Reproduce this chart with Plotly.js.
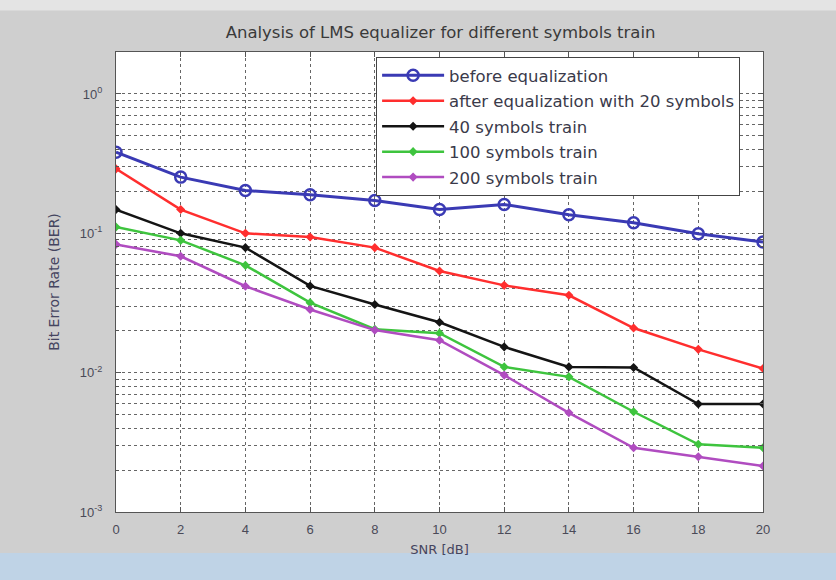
<!DOCTYPE html>
<html>
<head>
<meta charset="utf-8">
<script src="https://cdn.plot.ly/plotly-3.0.1.min.js"></script>
<style>html,body{margin:0;padding:0;background:#cfcfcf;}#chart{width:836px;height:580px;}</style>
</head>
<body>
<div id="chart"></div>
<script>
// SNR values (dB)
var snr = [0, 2, 4, 6, 8, 10, 12, 14, 16, 18, 20];
// BER series
var berBefore = [0.382, 0.253, 0.203, 0.189, 0.172, 0.148, 0.161, 0.136, 0.119, 0.0993, 0.0865];
var ber20 = [0.290, 0.148, 0.100, 0.094, 0.0789, 0.0536, 0.0423, 0.0359, 0.0209, 0.0147, 0.0107];
var ber40 = [0.148, 0.100, 0.0789, 0.0419, 0.0308, 0.0230, 0.0153, 0.0110, 0.0109, 0.00595, 0.00595];
var ber100 = [0.111, 0.0890, 0.0589, 0.0318, 0.0205, 0.0192, 0.0110, 0.00933, 0.00524, 0.00306, 0.00289];
var ber200 = [0.0833, 0.0684, 0.0417, 0.0284, 0.0202, 0.0171, 0.0096, 0.00515, 0.00289, 0.00249, 0.00214];
var seriesNames = ["before equalization", "after equalization with 20 symbols", "40 symbols train", "100 symbols train", "200 symbols train"];
var xTicks = [0, 2, 4, 6, 8, 10, 12, 14, 16, 18, 20];
var decades = [-3, -2, -1, 0];

// major y ticks at decades, minor 2..9 for the log grid
var yTickVals = [], yTickText = [], yMinorVals = [];
decades.forEach(function (d) {
  yTickVals.push(Math.pow(10, d));
  yTickText.push("10<sup>" + d + "</sup>");
  if (d < 0) {
    for (var m = 2; m <= 9; m++) yMinorVals.push(m * Math.pow(10, d));
  }
});

var colors = ["#3a3ab4", "#ff2e2e", "#141414", "#3ec43e", "#b04cc0"];
var data = [berBefore, ber20, ber40, ber100, ber200];
var traces = data.map(function (ys, i) {
  return {
    x: snr, y: ys, name: seriesNames[i], type: "scatter", mode: "lines+markers",
    legendgroup: "g" + i,
    line: {color: colors[i], width: i === 0 ? 3 : 2.5},
    marker: i === 0
      ? {symbol: "circle-open", size: 11, color: colors[i], line: {width: 2.5, color: colors[i]}}
      : {symbol: "diamond", size: 7, color: colors[i]}
  };
});

var tickFont = {family: "Arial, Liberation Sans, sans-serif", size: 13, color: "#4a4a58"};
var titleFontAx = {family: "DejaVu Sans, sans-serif", size: 13, color: "#454560"};
var layout = {
  width: 836, height: 580,
  paper_bgcolor: "#cfcfcf",
  plot_bgcolor: "#ffffff",
  margin: {l: 116, r: 73, t: 52, b: 68},
  title: {
    text: "Analysis of LMS equalizer for different symbols train",
    font: {family: "DejaVu Sans, sans-serif", size: 16.5, color: "#3a3a3a"},
    x: 0.527, xanchor: "center", yref: "container", y: 0.945, yanchor: "middle"
  },
  xaxis: {
    range: [0, 20], tickvals: xTicks, ticks: "inside", ticklen: 5, tickcolor: "#555",
    showline: true, linecolor: "#555", linewidth: 1, mirror: "ticks",
    showgrid: true, gridcolor: "#666", griddash: "dot", gridwidth: 1, zeroline: false,
    tickfont: tickFont, ticklabelstandoff: 5,
    title: {text: "SNR [dB]", font: titleFontAx, standoff: 9}
  },
  yaxis: {
    type: "log", range: [-3, Math.log10(2)],
    tickvals: yTickVals, ticktext: yTickText, ticks: "inside", ticklen: 5, tickcolor: "#555",
    showline: true, linecolor: "#555", linewidth: 1, mirror: "ticks",
    showgrid: true, gridcolor: "#666", griddash: "dot", gridwidth: 1, zeroline: false,
    minor: {tickvals: yMinorVals, ticks: "inside", ticklen: 3, tickcolor: "#555",
            showgrid: true, gridcolor: "#666", griddash: "dot", gridwidth: 1},
    tickfont: tickFont, ticklabelstandoff: 10,
    title: {text: "Bit Error Rate (BER)", font: {family: "DejaVu Sans, sans-serif", size: 14, color: "#454560"}, standoff: 16}
  },
  showlegend: true,
  legend: {
    x: 0.402, xanchor: "left", y: 0.989, yanchor: "top",
    bgcolor: "#ffffff", bordercolor: "#444", borderwidth: 1,
    font: {family: "DejaVu Sans, sans-serif", size: 16.5, color: "#3a3a4a"},
    tracegroupgap: 1, itemwidth: 62
  },
  shapes: [
    {type: "rect", xref: "paper", yref: "paper", x0: -0.2, x1: 1.15, y0: -0.089, y1: -0.16,
     fillcolor: "#bfd3e6", line: {width: 0}, layer: "below"},
    {type: "rect", xref: "paper", yref: "paper", x0: -0.2, x1: 1.15, y0: 1.09, y1: 1.14,
     fillcolor: "#e4e4e4", line: {width: 0}, layer: "below"}
  ]
};

Plotly.newPlot("chart", traces, layout, {displayModeBar: false, staticPlot: true});
</script>
</body>
</html>
